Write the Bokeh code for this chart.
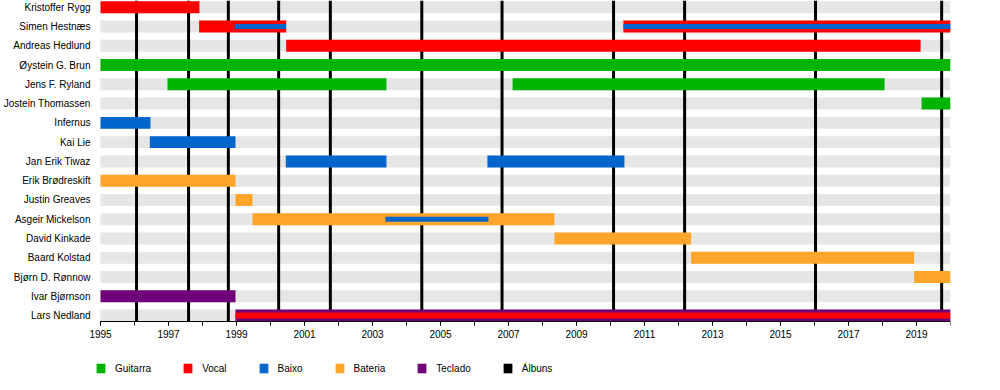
from bokeh.plotting import figure
from bokeh.models import FixedTicker, Legend, LegendItem, ColumnDataSource, Range1d
from bokeh.embed import file_html
from bokeh.resources import INLINE

members = ["Kristoffer Rygg", "Simen Hestnæs", "Andreas Hedlund", "Øystein G. Brun",
           "Jens F. Ryland", "Jostein Thomassen", "Infernus", "Kai Lie", "Jan Erik Tiwaz",
           "Erik Brødreskift", "Justin Greaves", "Asgeir Mickelson", "David Kinkade",
           "Baard Kolstad", "Bjørn D. Rønnow", "Ivar Bjørnson", "Lars Nedland"]

guitar_member = ["Øystein G. Brun", "Jens F. Ryland", "Jens F. Ryland", "Jostein Thomassen"]
guitar_start = [1995.0, 1996.97, 2007.12, 2019.15]
guitar_end = [2020.0, 2003.41, 2018.06, 2020.0]

vocal_member = ["Kristoffer Rygg", "Simen Hestnæs", "Simen Hestnæs", "Andreas Hedlund"]
vocal_start = [1995.0, 1997.90, 2010.38, 2000.46]
vocal_end = [1997.91, 2000.46, 2020.0, 2019.12]

bass_member = ["Infernus", "Kai Lie", "Jan Erik Tiwaz", "Jan Erik Tiwaz"]
bass_start = [1995.0, 1996.45, 2000.45, 2006.38]
bass_end = [1996.47, 1998.97, 2003.41, 2010.41]

drums_member = ["Erik Brødreskift", "Justin Greaves", "Asgeir Mickelson", "David Kinkade",
                "Baard Kolstad", "Bjørn D. Rønnow"]
drums_start = [1995.0, 1998.97, 1999.47, 2008.35, 2012.37, 2018.93]
drums_end = [1998.97, 1999.47, 2008.35, 2012.37, 2018.93, 2020.0]

keys_member = ["Ivar Bjørnson", "Lars Nedland"]
keys_start = [1995.0, 1998.97]
keys_end = [1998.97, 2020.0]

# secondary roles drawn as thin stripes
bass_stripe_member = ["Simen Hestnæs", "Simen Hestnæs", "Asgeir Mickelson"]
bass_stripe_start = [1998.95, 2010.38, 2003.38]
bass_stripe_end = [2000.46, 2020.0, 2006.41]

vocal_stripe_member = ["Lars Nedland"]
vocal_stripe_start = [1998.97]
vocal_stripe_end = [2020.0]

album_year = [1996.06, 1997.59, 1998.76, 2000.24, 2001.76, 2004.45, 2006.81,
              2010.09, 2012.18, 2016.03, 2019.74]

year_start, year_end = 1995, 2020
tick_years = list(range(1995, 2021))
label_years = list(range(1995, 2021, 2))
legend_labels = ["Guitarra", "Vocal", "Baixo", "Bateria", "Teclado", "Álbuns"]

GREEN, RED, BLUE, ORANGE, PURPLE, BLACK = "#00b300", "#ff0000", "#0066cc", "#ffa52a", "#700078", "#000000"
FONT = "Liberation Sans"

FRAME_W, FRAME_H = 864, 374
PX_PER_YEAR = 34.0
ROW_PX = 19.27            # pixel height of one row
n = len(members)
row = {m: n - 1 - i for i, m in enumerate(members)}
y_lo, y_hi = -0.31, (n - 1) + 0.35     # extent of the timeline area
y_frame_lo = y_hi - FRAME_H / ROW_PX   # frame extends below to host axis + legend
x_frame_lo = year_end - FRAME_W / PX_PER_YEAR  # a little room left of 1995 for its label
BAR_H = 0.62

p = figure(frame_width=FRAME_W, frame_height=FRAME_H, output_backend="svg", toolbar_location=None,
           x_range=Range1d(x_frame_lo, year_end), y_range=Range1d(y_frame_lo, y_hi),
           min_border_left=0, min_border_right=33, min_border_top=0, min_border_bottom=0)
p.outline_line_color = None
p.xgrid.visible = False
p.ygrid.visible = False
p.background_fill_color = "white"

# background stripes
p.hbar(y=[row[m] for m in members], left=[year_start] * n, right=[year_end] * n,
       height=BAR_H, fill_color="#e6e6e6", line_color=None)

# album lines
r_alb = p.vbar(x=album_year, width=0.088, top=[y_hi] * len(album_year),
               bottom=[y_lo] * len(album_year), fill_color=BLACK, line_color=None)


def bars(member, start, end, color, h):
    src = ColumnDataSource(dict(y=[row[m] for m in member], left=start, right=end))
    return p.hbar(y="y", left="left", right="right", height=h, source=src,
                  fill_color=color, line_color=None)


r_g = bars(guitar_member, guitar_start, guitar_end, GREEN, BAR_H)
r_v = bars(vocal_member, vocal_start, vocal_end, RED, BAR_H)
r_b = bars(bass_member, bass_start, bass_end, BLUE, BAR_H)
r_d = bars(drums_member, drums_start, drums_end, ORANGE, BAR_H)
r_k = bars(keys_member, keys_start, keys_end, PURPLE, BAR_H)
bars(bass_stripe_member, bass_stripe_start, bass_stripe_end, BLUE, 0.26)
bars(vocal_stripe_member, vocal_stripe_start, vocal_stripe_end, RED, 0.31)

# x axis, pinned to the bottom of the timeline area
xa = p.xaxis[0]
xa.fixed_location = y_lo
xa.bounds = (year_start, year_end)
xa.ticker = FixedTicker(ticks=label_years, minor_ticks=tick_years)
xa.major_tick_in = 0
xa.major_tick_out = 4
xa.minor_tick_in = 0
xa.minor_tick_out = 4
xa.axis_line_color = "black"
xa.major_tick_line_color = "black"
xa.minor_tick_line_color = "black"
xa.major_label_text_font = FONT
xa.major_label_text_font_size = "10px"
xa.major_label_text_color = "black"
xa.major_label_standoff = 4

# y axis: member names
ya = p.yaxis[0]
ya.ticker = FixedTicker(ticks=[row[m] for m in members], minor_ticks=[])
ya.major_label_overrides = {row[m]: m for m in members}
ya.axis_line_color = None
ya.major_tick_line_color = None
ya.minor_tick_line_color = None
ya.major_tick_out = 0
ya.major_tick_in = 0
ya.major_label_text_font = FONT
ya.major_label_text_font_size = "10px"
ya.major_label_text_color = "black"
ya.major_label_standoff = -4

legend = Legend(items=[LegendItem(label=l, renderers=[r]) for l, r in
                       zip(legend_labels, [r_g, r_v, r_b, r_d, r_k, r_alb])],
                orientation="horizontal", location=(9, 0),
                glyph_width=11, glyph_height=12, label_standoff=9, spacing=31,
                padding=0, margin=0, label_height=12,
                label_text_font=FONT, label_text_font_size="10px", label_text_color="black",
                border_line_color=None, background_fill_alpha=0)
p.add_layout(legend, "center")

open("out.html", "w").write(file_html(p, INLINE))
